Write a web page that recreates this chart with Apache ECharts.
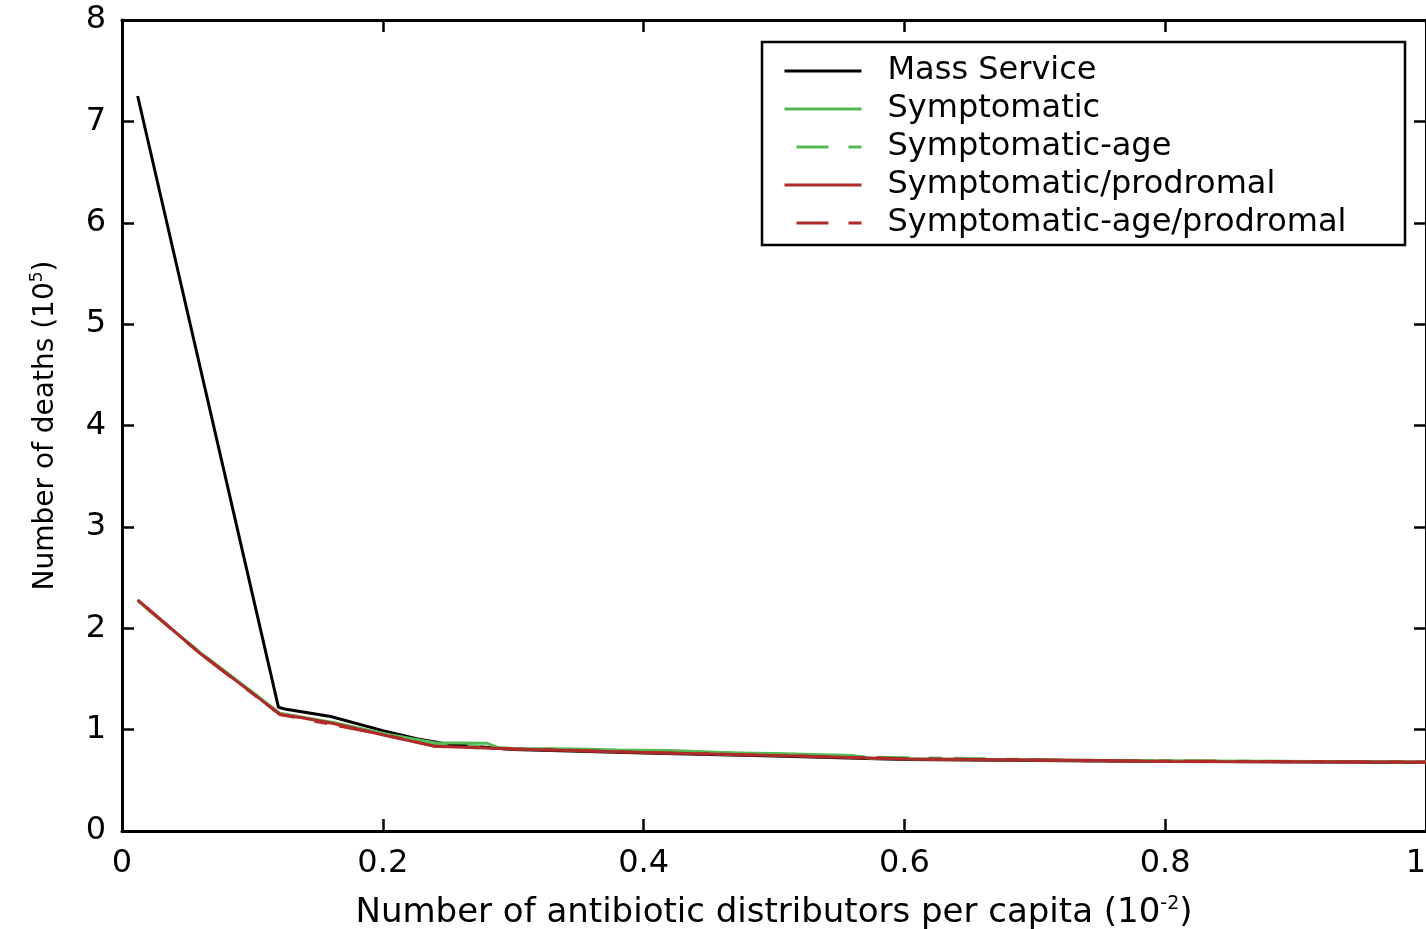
<!DOCTYPE html>
<html>
<head>
<meta charset="utf-8">
<script src="https://cdn.jsdelivr.net/npm/echarts@6/dist/echarts.min.js"></script>
<style>
  html, body { margin: 0; padding: 0; background: #ffffff; }
  #chart { width: 1426px; height: 929px; }
</style>
</head>
<body>
<div id="chart"></div>
<script>
// Deaths (in units of 10^5) against antibiotic distributors per capita (in units of 10^-2)
const seriesNames = [
  'Mass Service',
  'Symptomatic',
  'Symptomatic-age',
  'Symptomatic/prodromal',
  'Symptomatic-age/prodromal'
];

const massService = [
  [0.012, 7.25], [0.12, 1.22], [0.126, 1.20], [0.16, 1.13], [0.2, 0.99],
  [0.226, 0.91], [0.25, 0.855], [0.3, 0.805], [0.4, 0.77], [0.5, 0.74],
  [0.6, 0.705], [0.75, 0.69], [1.0, 0.675]
];

const symptomatic = [
  [0.012, 2.27], [0.06, 1.76], [0.1, 1.37], [0.121, 1.16], [0.162, 1.07],
  [0.203, 0.955], [0.24, 0.87], [0.28, 0.865], [0.29, 0.815], [0.35, 0.81],
  [0.38, 0.80], [0.42, 0.795], [0.47, 0.77], [0.5, 0.765], [0.56, 0.745],
  [0.575, 0.715], [0.75, 0.695], [1.0, 0.68]
];

const symptomaticAge = [
  [0.012, 2.27], [0.06, 1.76], [0.121, 1.16], [0.203, 0.955], [0.24, 0.86],
  [0.3, 0.815], [0.4, 0.79], [0.5, 0.76], [0.57, 0.73], [0.75, 0.695],
  [1.0, 0.68]
];

const symptomaticProdromal = [
  [0.012, 2.28], [0.06, 1.75], [0.1, 1.36], [0.121, 1.15], [0.137, 1.12],
  [0.162, 1.06], [0.203, 0.94], [0.24, 0.835], [0.3, 0.81], [0.4, 0.775],
  [0.5, 0.745], [0.6, 0.71], [0.75, 0.695], [0.8, 0.685], [1.0, 0.68]
];

const symptomaticAgeProdromal = [
  [0.012, 2.28], [0.06, 1.75], [0.121, 1.15], [0.203, 0.945], [0.24, 0.835],
  [0.3, 0.81], [0.4, 0.775], [0.5, 0.745], [0.6, 0.712], [0.75, 0.692],
  [1.0, 0.678]
];

const xTicks = [0, 0.2, 0.4, 0.6, 0.8, 1];
const yTicks = [0, 1, 2, 3, 4, 5, 6, 7, 8];

const FONT = 'DejaVu Sans';
const GREEN = '#55b955';
const RED = '#b02a2a';
const DASH_DOT = [32, 20, 13, 12];

const chart = echarts.init(document.getElementById('chart'), null, { renderer: 'canvas' });

// Shared style for the four sides of the box: thick frame, short inward ticks
function frameAxis(extra) {
  return Object.assign({
    axisLine: { show: true, onZero: false, lineStyle: { color: '#000', width: 3 } },
    axisTick: { show: true, inside: true, length: 12, lineStyle: { color: '#000', width: 2.5 } },
    splitLine: { show: false }
  }, extra);
}

function lineSeries(name, data, color, dashed, z) {
  return {
    name: name,
    type: 'line',
    data: data,
    symbol: 'none',
    z: z,
    silent: true,
    animation: false,
    lineStyle: dashed
      ? { color: color, width: 3, type: DASH_DOT, dashOffset: 65 }
      : { color: color, width: 3, type: 'solid' },
    itemStyle: { color: color }
  };
}

chart.setOption({
  backgroundColor: '#ffffff',
  animation: false,
  grid: { left: 122, right: 0, top: 20, bottom: 98, containLabel: false, outerBoundsMode: 'none' },
  xAxis: [
    frameAxis({
      type: 'value',
      position: 'bottom',
      min: xTicks[0],
      max: xTicks[xTicks.length - 1],
      interval: 0.2,
      axisLabel: { color: '#000', fontFamily: FONT, fontSize: 32, margin: 17, alignMaxLabel: 'right' },
      name: '{n|Number of antibiotic distributors per capita (10}{s|-2}{n|)}',
      nameLocation: 'middle',
      nameGap: 64,
      nameTextStyle: {
        rich: {
          n: { fontFamily: FONT, fontSize: 34, color: '#000' },
          s: { fontFamily: FONT, fontSize: 19, color: '#000', padding: [0, 0, 18, 0] }
        }
      }
    }),
    frameAxis({
      type: 'value',
      position: 'top',
      min: xTicks[0],
      max: xTicks[xTicks.length - 1],
      interval: 0.2,
      axisLabel: { show: false }
    })
  ],
  yAxis: [
    frameAxis({
      type: 'value',
      position: 'left',
      min: yTicks[0],
      max: yTicks[yTicks.length - 1],
      interval: 1,
      axisLabel: { color: '#000', fontFamily: FONT, fontSize: 32, margin: 16 },
      name: '{n|Number of deaths (10}{s|5}{n|)}',
      nameLocation: 'middle',
      nameGap: 60,
      nameTextStyle: {
        rich: {
          n: { fontFamily: FONT, fontSize: 28, color: '#000' },
          s: { fontFamily: FONT, fontSize: 17, color: '#000', padding: [0, 0, 16, 0] }
        }
      }
    }),
    frameAxis({
      type: 'value',
      position: 'right',
      min: yTicks[0],
      max: yTicks[yTicks.length - 1],
      interval: 1,
      axisLabel: { show: false }
    })
  ],
  legend: {
    orient: 'vertical',
    left: 783,
    top: 52,
    padding: 0,
    itemWidth: 77,
    itemHeight: 38,
    itemGap: 0,
    z: 6,
    selectedMode: false,
    itemStyle: { opacity: 0 },
    lineStyle: { width: 3 },
    textStyle: {
      fontFamily: FONT, fontSize: 32, color: '#000',
      lineHeight: 38, padding: [0, 0, 0, 21]
    },
    data: seriesNames
  },
  graphic: [
    {
      type: 'rect',
      z: 5,
      shape: { x: 762, y: 42, width: 643, height: 203 },
      style: { fill: '#ffffff', stroke: '#000', lineWidth: 2.5 }
    }
  ],
  series: [
    lineSeries(seriesNames[0], massService, '#000000', false, 2),
    lineSeries(seriesNames[1], symptomatic, GREEN, false, 3),
    lineSeries(seriesNames[2], symptomaticAge, GREEN, true, 3),
    lineSeries(seriesNames[3], symptomaticProdromal, RED, false, 4),
    lineSeries(seriesNames[4], symptomaticAgeProdromal, RED, true, 4)
  ]
});
</script>
</body>
</html>
